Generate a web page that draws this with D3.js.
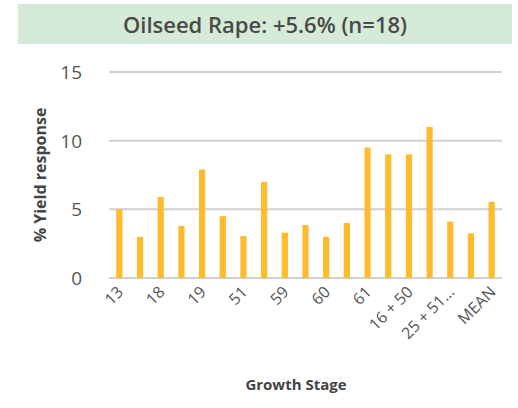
<!DOCTYPE html>
<html><head><meta charset="utf-8">
<script src="https://cdn.jsdelivr.net/npm/d3@7"></script>
<style>body{margin:0;background:#fff}</style></head>
<body><svg id="c" width="518" height="408"></svg>
<script>
const categories=["13","16","18","18 + 30","19","30","51","55","59","59 + 30","60","60 + 30","61","65","16 + 50","25 + 50","25 + 51…","30 + 51","MEAN"];
const values=[5,3,5.9,3.8,7.9,4.5,3.05,7,3.3,3.85,3,4,9.5,9,9,11,4.1,3.25,5.55];
const yTicks=[0,5,10,15];
const title="Oilseed Rape: +5.6% (n=18)";
const svg=d3.select("#c");
const font="'Open Sans', sans-serif";
svg.append("rect").attr("x",18).attr("y",4).attr("width",494).attr("height",40).attr("fill","#d5ead7");
svg.append("text").attr("x",265).attr("y",33).attr("text-anchor","middle").attr("font-family",font).attr("font-size",22).attr("font-weight",600).attr("fill","#4a4a4a").text(title);
const x=d3.scaleBand().domain(categories).range([109,502]).paddingInner(0.7).paddingOuter(0.35);
const y=d3.scaleLinear().domain([0,15]).range([278,72]);
const g=svg.append("g");
yTicks.forEach(t=>{
  g.append("line").attr("x1",109).attr("x2",502).attr("y1",y(t)).attr("y2",y(t)).attr("stroke","#d0d0d0").attr("stroke-width",2);
  g.append("text").attr("x",82).attr("y",y(t)+7).attr("text-anchor","end").attr("font-family",font).attr("font-size",19).attr("fill","#555").text(t);
});
g.selectAll(".b").data(values).enter().append("rect").attr("x",(d,i)=>x(categories[i])).attr("width",x.bandwidth()).attr("y",d=>y(d)).attr("height",d=>y(0)-y(d)).attr("fill","#fdbb2d");
categories.forEach((c,i)=>{ if(i%2) return;
  const cx=x(c)+x.bandwidth()/2+5;
  g.append("text").attr("transform",`translate(${cx},${293}) rotate(-45)`).attr("text-anchor","end").attr("font-family",font).attr("font-size",16).attr("fill","#555").text(c);
});
svg.append("text").attr("transform","translate(46,175) rotate(-90)").attr("text-anchor","middle").attr("font-family",font).attr("font-size",16).attr("font-weight",700).attr("fill","#444").text("% Yield response");
svg.append("text").attr("x",296).attr("y",390).attr("text-anchor","middle").attr("font-family",font).attr("font-size",15).attr("font-weight",700).attr("fill","#444").text("Growth Stage");
</script></body></html>
